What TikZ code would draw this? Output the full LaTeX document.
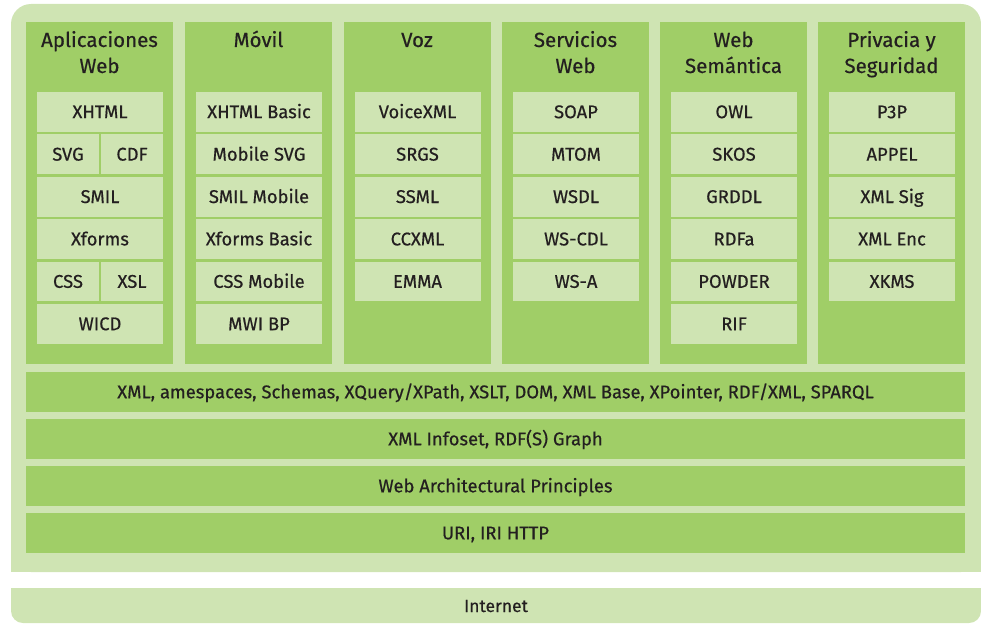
\documentclass[tikz,border=0pt]{standalone}
\usepackage{fontspec}
\setmainfont[FakeBold=0.5]{Fira Sans}
\definecolor{lightg}{RGB}{207,228,179}
\definecolor{midg}{RGB}{160,206,103}
\definecolor{txt}{RGB}{35,31,32}
\tikzset{
  colbox/.style={fill=midg, anchor=north west, minimum width=147pt, minimum height=342pt, inner sep=0pt, outer sep=0pt},
  cell/.style={fill=lightg, anchor=north west, minimum width=126pt, minimum height=39.8pt, inner sep=0pt, outer sep=0pt, text=txt, font=\fontsize{18.4}{20}\selectfont, text height=12.6pt, text depth=0pt},
  halfcell/.style={cell, minimum width=62pt},
  ttl/.style={text=txt, font=\fontsize{20.5}{22}\selectfont, inner sep=0pt, text height=14pt, text depth=0pt},
  layer/.style={fill=midg, anchor=north west, minimum width=939pt, minimum height=40pt, inner sep=0pt, outer sep=0pt, text=txt, font=\fontsize{18.4}{20}\selectfont, text height=12.6pt, text depth=0pt},
}
\begin{document}
\begin{tikzpicture}[x=1pt,y=-1pt]
\useasboundingbox (0,0) rectangle (981,623);
% outer panel
\fill[lightg, rounded corners=20pt] (11,4) rectangle (981,572);
\fill[lightg] (11,540) rectangle (981,572);
% internet bar
\fill[lightg, rounded corners=12pt] (11,588) rectangle (981,623);
\fill[lightg] (11,588) rectangle (981,610);
\node[text=txt, font=\fontsize{17.5}{19}\selectfont, inner sep=0pt, text height=12pt, text depth=0pt] (inet) at (496,606) {Internet};
% columns
\foreach \n/\x in {1/26,2/185,3/343.5,4/502,5/660,6/818}{
  \node[colbox] (col\n) at (\x,22) {};
}
% titles
\node[ttl] (t1a) at (99.5,40) {Aplicaciones};
\node[ttl] (t1b) at (99.5,66) {Web};
\node[ttl] (t2a) at (258.5,40) {Móvil};
\node[ttl] (t3a) at (417,40) {Voz};
\node[ttl] (t4a) at (575.5,40) {Servicios};
\node[ttl] (t4b) at (575.5,66) {Web};
\node[ttl] (t5a) at (733.5,40) {Web};
\node[ttl] (t5b) at (733.5,66) {Semántica};
\node[ttl] (t6a) at (891.5,40) {Privacia y};
\node[ttl] (t6b) at (891.5,66) {Seguridad};
% column 1
\node[cell] (c1r0) at (37,92) {XHTML};
\node[halfcell] (c1r1a) at (37,134.4) {SVG};
\node[halfcell] (c1r1b) at (101,134.4) {CDF};
\node[cell] (c1r2) at (37,176.8) {SMIL};
\node[cell] (c1r3) at (37,219.2) {Xforms};
\node[halfcell] (c1r4a) at (37,261.6) {CSS};
\node[halfcell] (c1r4b) at (101,261.6) {XSL};
\node[cell] (c1r5) at (37,304) {WICD};
% other columns
\foreach \t [count=\r from 0] in {XHTML Basic, Mobile SVG, SMIL Mobile, Xforms Basic, CSS Mobile, MWI BP}{
  \node[cell] (c2r\r) at (196,92+42.4*\r) {\t};
}
\foreach \t [count=\r from 0] in {VoiceXML, SRGS, SSML, CCXML, EMMA}{
  \node[cell] (c3r\r) at (354.5,92+42.4*\r) {\t};
}
\foreach \t [count=\r from 0] in {SOAP, MTOM, WSDL, WS-CDL, WS-A}{
  \node[cell] (c4r\r) at (513,92+42.4*\r) {\t};
}
\foreach \t [count=\r from 0] in {OWL, SKOS, GRDDL, RDFa, POWDER, RIF}{
  \node[cell] (c5r\r) at (671,92+42.4*\r) {\t};
}
\foreach \t [count=\r from 0] in {P3P, APPEL, XML Sig, XML Enc, XKMS}{
  \node[cell] (c6r\r) at (829,92+42.4*\r) {\t};
}
% layers
\node[layer] (l1) at (26,372) {XML, amespaces, Schemas, XQuery/XPath, XSLT, DOM, XML Base, XPointer, RDF/XML, SPARQL};
\node[layer] (l2) at (26,419) {XML Infoset, RDF(S) Graph};
\node[layer] (l3) at (26,466) {Web Architectural Principles};
\node[layer] (l4) at (26,513) {URI, IRI HTTP};
\end{tikzpicture}
\end{document}
